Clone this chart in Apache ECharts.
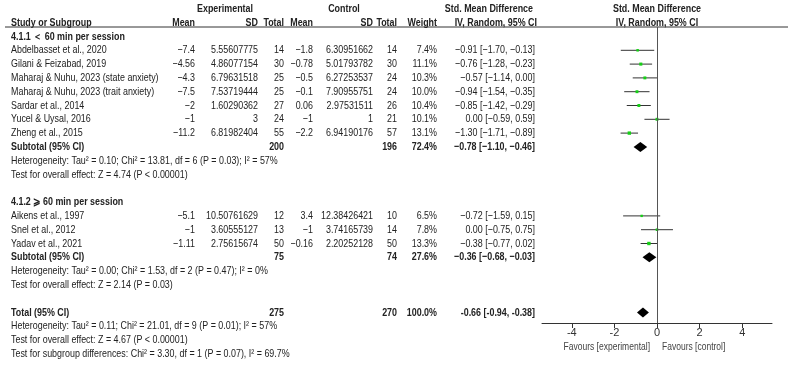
<!DOCTYPE html>
<html>
<head>
<meta charset="utf-8">
<script src="https://cdn.jsdelivr.net/npm/echarts@6/dist/echarts.min.js"></script>
<style>
  html, body { margin: 0; padding: 0; background: #fff; }
  #forest { width: 788px; height: 365px; }
</style>
</head>
<body>
<div id="forest"></div>
<script>
// 研究数据（按行顺序）
const studyNames = [
  'Abdelbasset et al., 2020', 'Gilani & Feizabad, 2019', 'Maharaj & Nuhu, 2023 (state anxiety)',
  'Maharaj & Nuhu, 2023 (trait anxiety)', 'Sardar et al., 2014', 'Yucel & Uysal, 2016', 'Zheng et al., 2015',
  'Aikens et al., 1997', 'Snel et al., 2012', 'Yadav et al., 2021'
]
const studyGroup = [1, 1, 1, 1, 1, 1, 1, 2, 2, 2]
const expMean = [-7.4, -4.56, -4.3, -7.5, -2, -1, -11.2, -5.1, -1, -1.11]
const expSD = ['5.55607775', '4.86077154', '6.79631518', '7.53719444', '1.60290362', '3', '6.81982404', '10.50761629', '3.60555127', '2.75615674']
const expTotal = [14, 30, 25, 25, 27, 24, 55, 12, 13, 50]
const ctlMean = [-1.8, -0.78, -0.5, -0.1, 0.06, -1, -2.2, 3.4, -1, -0.16]
const ctlSD = ['6.30951662', '5.01793782', '6.27253537', '7.90955751', '2.97531511', '1', '6.94190176', '12.38426421', '3.74165739', '2.20252128']
const ctlTotal = [14, 30, 24, 24, 26, 21, 57, 10, 14, 50]
const weight = [7.4, 11.1, 10.3, 10.0, 10.4, 10.1, 13.1, 6.5, 7.8, 13.3]
const smd = [-0.91, -0.76, -0.57, -0.94, -0.85, 0.00, -1.30, -0.72, 0.00, -0.38]
const ciLow = [-1.70, -1.28, -1.14, -1.54, -1.42, -0.59, -1.71, -1.59, -0.75, -0.77]
const ciHigh = [-0.13, -0.23, 0.00, -0.35, -0.29, 0.59, -0.89, 0.15, 0.75, 0.02]

// 合并结果：亚组1、亚组2、总计
const poolLabel = ['Subtotal (95% CI)', 'Subtotal (95% CI)', 'Total (95% CI)']
const poolExpTotal = [200, 75, 275]
const poolCtlTotal = [196, 74, 270]
const poolWeight = ['72.4%', '27.6%', '100.0%']
const poolSmd = [-0.78, -0.36, -0.66]
const poolLow = [-1.10, -0.68, -0.94]
const poolHigh = [-0.46, -0.03, -0.38]
const poolHet = [
  'Heterogeneity: Tau² = 0.10; Chi² = 13.81, df = 6 (P = 0.03); I² = 57%',
  'Heterogeneity: Tau² = 0.00; Chi² = 1.53, df = 2 (P = 0.47); I² = 0%',
  'Heterogeneity: Tau² = 0.11; Chi² = 21.01, df = 9 (P = 0.01); I² = 57%'
]
const poolTest = [
  'Test for overall effect: Z = 4.74 (P < 0.00001)',
  'Test for overall effect: Z = 2.14 (P = 0.03)',
  'Test for overall effect: Z = 4.67 (P < 0.00001)'
]
const subgroupTest = 'Test for subgroup differences: Chi² = 3.30, df = 1 (P = 0.07), I² = 69.7%'
const groupTitles = ['4.1.1 ＜ 60 min per session', '4.1.2 ⩾ 60 min per session']
const xTicks = [-4, -2, 0, 2, 4]

// 版面
const FONT = "'Liberation Sans', Arial, sans-serif"
const SX = 0.81 // 原图文字偏窄
const ROW0 = 36.5, ROWH = 13.8 // 第2行的y位置及行高
const rowY = (r) => ROW0 + (r - 2) * ROWH
const PLOT_TOP = 27, PLOT_BOTTOM_Y = 323
const col = {
  name: 11, expMean: 195, expSD: 258, expTotal: 284,
  ctlMean: 313, ctlSD: 373, ctlTotal: 397, weight: 437, ci: 535
}

const fmtNum = (v) => String(v).replace('-', '−')
const fmtCI = (m, lo, hi, dash) => {
  const f = (v) => v.toFixed(2).replace('-', dash)
  return `${f(m)} [${f(lo)}, ${f(hi)}]`
}

let texts = []
function addText(str, x, y, align, bold, size, color) {
  texts.push({
    type: 'text',
    x: x,
    y: y,
    scaleX: SX,
    silent: true,
    style: {
      text: str,
      align: align || 'left',
      verticalAlign: 'middle',
      fontFamily: FONT,
      fontSize: size || 11,
      fontWeight: bold ? 'bold' : 'normal',
      fill: color || '#222',
    },
  })
}
const addRow = (str, x, r, align, bold) => addText(str, x, rowY(r), align, bold)

// 表头
addRow('Experimental', 225, 0, 'center', true)
addRow('Control', 344, 0, 'center', true)
addRow('Std. Mean Difference', col.ci - 2, 0, 'right', true)
addRow('Std. Mean Difference', 657, 0, 'center', true)
addRow('Study or Subgroup', col.name, 1, 'left', true)
addRow('Mean', col.expMean, 1, 'right', true)
addRow('SD', col.expSD, 1, 'right', true)
addRow('Total', col.expTotal, 1, 'right', true)
addRow('Mean', col.ctlMean, 1, 'right', true)
addRow('SD', col.ctlSD, 1, 'right', true)
addRow('Total', col.ctlTotal, 1, 'right', true)
addRow('Weight', col.weight, 1, 'right', true)
addRow('IV, Random, 95% CI', col.ci + 2, 1, 'right', true)
addRow('IV, Random, 95% CI', 657, 1, 'center', true)

// 行分配
let studyRows = [], poolRows = []
let r = 2
;[1, 2].forEach((g, gi) => {
  addRow(groupTitles[gi], col.name, r, 'left', true)
  r++
  studyNames.forEach((n, i) => {
    if (studyGroup[i] !== g) return
    studyRows[i] = r
    addRow(n, col.name, r)
    addRow(fmtNum(expMean[i]), col.expMean, r, 'right')
    addRow(expSD[i], col.expSD, r, 'right')
    addRow(String(expTotal[i]), col.expTotal, r, 'right')
    addRow(fmtNum(ctlMean[i]), col.ctlMean, r, 'right')
    addRow(ctlSD[i], col.ctlSD, r, 'right')
    addRow(String(ctlTotal[i]), col.ctlTotal, r, 'right')
    addRow(weight[i].toFixed(1) + '%', col.weight, r, 'right')
    addRow(fmtCI(smd[i], ciLow[i], ciHigh[i], '−'), col.ci, r, 'right')
    r++
  })
  poolRows[gi] = r
  r += 4
})
poolRows[2] = r
poolRows.forEach((pr, k) => {
  addRow(poolLabel[k], col.name, pr, 'left', true)
  addRow(String(poolExpTotal[k]), col.expTotal, pr, 'right', true)
  addRow(String(poolCtlTotal[k]), col.ctlTotal, pr, 'right', true)
  addRow(poolWeight[k], col.weight, pr, 'right', true)
  addRow(fmtCI(poolSmd[k], poolLow[k], poolHigh[k], k === 2 ? '-' : '−'), col.ci, pr, 'right', true)
  addRow(poolHet[k], col.name, pr + 1)
  addRow(poolTest[k], col.name, pr + 2)
})
addRow(subgroupTest, col.name, poolRows[2] + 3)

// 坐标轴下方标签
addText('Favours [experimental]', 650, 347, 'right', false, 10.5, '#444')
addText('Favours [control]', 662, 347, 'left', false, 10.5, '#444')
// 表头下划线
texts.push({ type: 'line', silent: true, shape: { x1: 5, y1: PLOT_TOP, x2: 788, y2: PLOT_TOP }, style: { stroke: '#333', lineWidth: 1 } })

const studyData = studyNames.map((n, i) => [smd[i], studyRows[i], ciLow[i], ciHigh[i], weight[i]])
const poolData = poolRows.map((pr, k) => [poolSmd[k], pr, poolLow[k], poolHigh[k]])

const yMin = (PLOT_TOP - ROW0) / ROWH + 2
const yMax = (PLOT_BOTTOM_Y - ROW0) / ROWH + 2

const chart = echarts.init(document.getElementById('forest'), null, { renderer: 'canvas' })
const option = {
  animation: false,
  backgroundColor: '#fff',
  textStyle: { fontFamily: FONT },
  grid: { left: 542, right: 16, top: PLOT_TOP, bottom: 365 - PLOT_BOTTOM_Y },
  xAxis: {
    type: 'value',
    min: -5.4,
    max: 5.4,
    splitLine: { show: false },
    axisLine: { show: true, lineStyle: { color: '#333', width: 1 } },
    axisTick: { show: true, length: 5, lineStyle: { color: '#333' }, customValues: xTicks },
    axisLabel: {
      color: '#333', fontSize: 11, margin: 4, customValues: xTicks,
      formatter: (v) => String(v),
    },
  },
  yAxis: {
    type: 'value', inverse: true, min: yMin, max: yMax, show: false,
  },
  graphic: texts,
  series: [
    {
      type: 'custom',
      name: 'studies',
      data: studyData,
      encode: { x: [0, 2, 3], y: 1 },
      renderItem: (params, api) => {
        const row = api.value(1)
        const a = api.coord([api.value(2), row])
        const b = api.coord([api.value(3), row])
        const c = api.coord([api.value(0), row])
        const s = 1.4 + api.value(4) * 0.15
        return {
          type: 'group',
          children: [
            { type: 'line', shape: { x1: a[0], y1: a[1], x2: b[0], y2: b[1] }, style: { stroke: '#333', lineWidth: 1 } },
            { type: 'rect', shape: { x: c[0] - s / 2, y: c[1] - s / 2, width: s, height: s }, style: { fill: '#16d016' } },
          ],
        }
      },
      markLine: {
        silent: true,
        symbol: 'none',
        label: { show: false },
        lineStyle: { color: '#555', width: 1, type: 'solid' },
        data: [{ xAxis: 0 }],
      },
      z: 3,
    },
    {
      type: 'custom',
      name: 'pooled',
      data: poolData,
      encode: { x: [0, 2, 3], y: 1 },
      renderItem: (params, api) => {
        const row = api.value(1)
        const a = api.coord([api.value(2), row])
        const b = api.coord([api.value(3), row])
        const c = api.coord([api.value(0), row])
        const h = 5
        return {
          type: 'polygon',
          shape: { points: [[a[0], a[1]], [c[0], c[1] - h], [b[0], b[1]], [c[0], c[1] + h]] },
          style: { fill: '#000' },
        }
      },
      z: 4,
    },
  ],
}
chart.setOption(option)
</script>
</body>
</html>
